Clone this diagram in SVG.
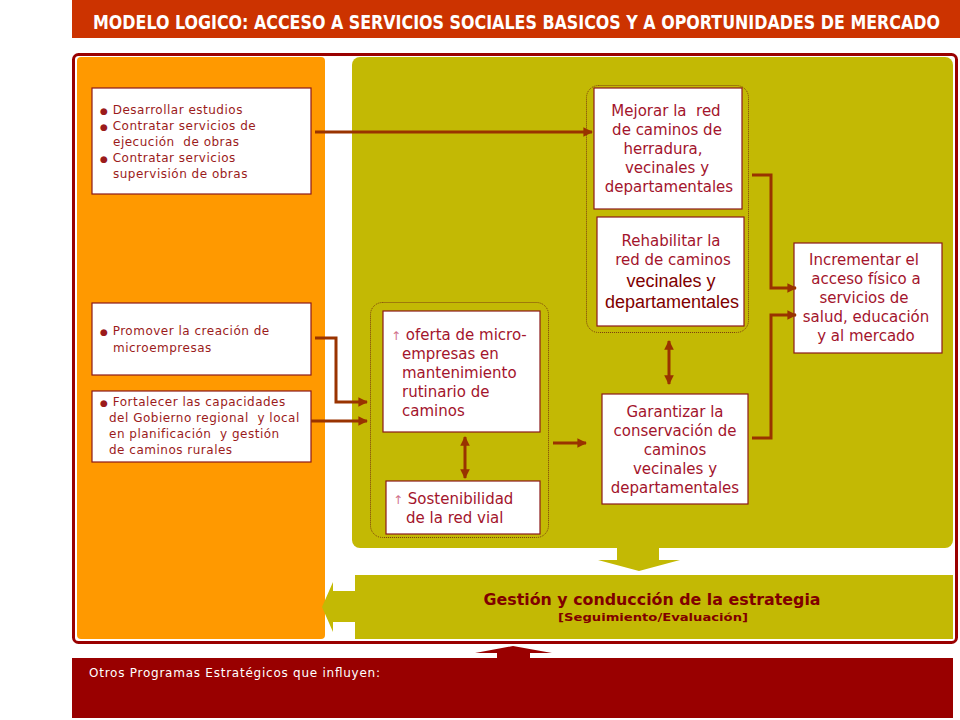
<svg xmlns="http://www.w3.org/2000/svg" width="960" height="720" viewBox="0 0 960 720">
<defs>
<style>
.box{fill:#ffffff;stroke:#8b1a1a;stroke-width:1.2}
.grp{fill:none;stroke:#7a3a10;stroke-width:1;stroke-dasharray:1 1}
.lt{font-family:"DejaVu Sans",Verdana,sans-serif;font-size:12px;letter-spacing:0.5px;fill:#9b1b1b}
.bul{font-size:9px}
.mt{font-family:"DejaVu Sans",Verdana,sans-serif;font-size:15px;fill:#a3142c}
.ar{fill:#d0708a;font-size:12px}
.at{font-family:"Liberation Sans",Arial,sans-serif;font-size:18px;fill:#800000}
.c{text-anchor:middle}
.con{fill:none;stroke:#993300;stroke-width:3}
</style>
<marker id="ah" viewBox="0 0 10 10" refX="9" refY="5" markerWidth="3.2" markerHeight="3.2" orient="auto-start-reverse" markerUnits="strokeWidth">
<path d="M0,0 L10,5 L0,10 z" fill="#993300"/>
</marker>
</defs>

<rect x="0" y="0" width="960" height="720" fill="#ffffff"/>

<g id="title">
<rect x="72" y="0" width="888" height="38" fill="#cc3300"/>
<text transform="translate(93,29) scale(1,1.25)" x="0" y="0" font-family="'DejaVu Sans Condensed','Liberation Sans Narrow',sans-serif" font-weight="bold" font-size="16" fill="#ffffff" textLength="847" lengthAdjust="spacingAndGlyphs">MODELO LOGICO: ACCESO A SERVICIOS SOCIALES BASICOS Y A OPORTUNIDADES DE MERCADO</text>
</g>

<g id="frame">
<rect x="73.5" y="54.5" width="883" height="588" rx="5" fill="#ffffff" stroke="#990000" stroke-width="3"/>
<rect x="77" y="57" width="248" height="582" rx="4" fill="#ff9900"/>
<rect x="352" y="57" width="601" height="491" rx="8" fill="#c3b904"/>
</g>

<g id="gestion">
<rect x="355" y="575" width="598" height="64" fill="#c3b904"/>
<polygon points="356,591 333,591 333,582 322,607 333,632 333,622 356,622" fill="#c3b904"/>
<polygon points="617,547 659,547 659,560 680,560 639,571 598,560 617,560" fill="#c3b904"/>
<text x="652" y="605" class="c" font-family="Tahoma,'DejaVu Sans',sans-serif" font-weight="bold" font-size="15" fill="#800000" textLength="337" lengthAdjust="spacingAndGlyphs">Gestión y conducción de la estrategia</text>
<text x="653" y="621" class="c" font-family="Tahoma,'DejaVu Sans',sans-serif" font-weight="bold" font-size="11" fill="#800000" textLength="190" lengthAdjust="spacingAndGlyphs">[Seguimiento/Evaluación]</text>
</g>

<g id="otros">
<rect x="72" y="658" width="881" height="60" fill="#990000"/>
<polygon points="497,660 497,653 475,653 513,646 552,653 530,653 530,660" fill="#990000"/>
<text x="89" y="677" font-family="'DejaVu Sans',Verdana,sans-serif" font-size="12" fill="#ffffff" textLength="291" lengthAdjust="spacing">Otros Programas Estratégicos que influyen:</text>
</g>

<g id="groups">
<rect class="grp" x="370.5" y="302.5" width="178" height="235" rx="12"/>
<rect class="grp" x="586.5" y="85.5" width="162" height="247" rx="12"/>
</g>

<g id="n-desarrollar">
<rect class="box" x="92" y="88" width="219" height="106"/>
<text class="lt"><tspan x="100" y="114"><tspan class="bul">●</tspan> Desarrollar estudios</tspan><tspan x="100" y="130"><tspan class="bul">●</tspan> Contratar servicios de</tspan><tspan x="113" y="146">ejecución&#160; de obras</tspan><tspan x="100" y="162"><tspan class="bul">●</tspan> Contratar servicios</tspan><tspan x="113" y="178">supervisión de obras</tspan></text>
</g>

<g id="n-promover">
<rect class="box" x="92" y="303" width="219" height="72"/>
<text class="lt"><tspan x="100" y="335"><tspan class="bul">●</tspan> Promover la creación de</tspan><tspan x="113" y="352">microempresas</tspan></text>
</g>

<g id="n-fortalecer">
<rect class="box" x="92" y="391" width="219" height="71"/>
<text class="lt"><tspan x="100" y="406"><tspan class="bul">●</tspan> Fortalecer las capacidades</tspan><tspan x="109" y="422">del Gobierno regional&#160; y local</tspan><tspan x="109" y="438">en planificación&#160; y gestión</tspan><tspan x="109" y="454">de caminos rurales</tspan></text>
</g>

<g id="n-oferta">
<rect class="box" x="383" y="311" width="157" height="121"/>
<text class="mt"><tspan x="391" y="340"><tspan class="ar">↑</tspan> oferta de micro-</tspan><tspan x="402" y="359">empresas en</tspan><tspan x="402" y="378">mantenimiento</tspan><tspan x="402" y="397">rutinario de</tspan><tspan x="402" y="416">caminos</tspan></text>
</g>

<g id="n-sostenibilidad">
<rect class="box" x="386" y="481" width="154" height="53"/>
<text class="mt"><tspan x="393" y="504"><tspan class="ar">↑</tspan> Sostenibilidad</tspan><tspan x="406" y="523">de la red vial</tspan></text>
</g>

<g id="n-mejorar">
<rect class="box" x="594" y="88" width="148" height="121"/>
<text class="mt c"><tspan x="666" y="116">Mejorar la&#160; red</tspan><tspan x="667" y="135">de caminos de</tspan><tspan x="663" y="154">herradura,</tspan><tspan x="667" y="173">vecinales y</tspan><tspan x="669" y="192">departamentales</tspan></text>
</g>

<g id="n-rehabilitar">
<rect class="box" x="597" y="217" width="147" height="109"/>
<text class="mt c"><tspan x="671" y="246">Rehabilitar la</tspan><tspan x="673" y="265">red de caminos</tspan></text>
<text class="at c"><tspan x="671" y="287">vecinales y</tspan><tspan x="672" y="308">departamentales</tspan></text>
</g>

<g id="n-garantizar">
<rect class="box" x="602" y="394" width="146" height="110"/>
<text class="mt c"><tspan x="675" y="417">Garantizar la</tspan><tspan x="675" y="436">conservación de</tspan><tspan x="675" y="455">caminos</tspan><tspan x="675" y="474">vecinales y</tspan><tspan x="675" y="493">departamentales</tspan></text>
</g>

<g id="n-incrementar">
<rect class="box" x="794" y="243" width="148" height="110"/>
<text class="mt c"><tspan x="864" y="265">Incrementar el</tspan><tspan x="866" y="284">acceso físico a</tspan><tspan x="864" y="303">servicios de</tspan><tspan x="866" y="322">salud, educación</tspan><tspan x="866" y="341">y al mercado</tspan></text>
</g>

<g id="connectors">
<path class="con" d="M315,132 H592" marker-end="url(#ah)"/>
<path class="con" d="M315,338 H336 V402 H367" marker-end="url(#ah)"/>
<path class="con" d="M311,421 H367" marker-end="url(#ah)"/>
<path class="con" d="M465,437 V478" marker-start="url(#ah)" marker-end="url(#ah)"/>
<path class="con" d="M553,443 H586" marker-end="url(#ah)"/>
<path class="con" d="M669,341 V384" marker-start="url(#ah)" marker-end="url(#ah)"/>
<path class="con" d="M752,175 H771 V288 H796" marker-end="url(#ah)"/>
<path class="con" d="M752,438 H771 V315 H796" marker-end="url(#ah)"/>
</g>
</svg>
